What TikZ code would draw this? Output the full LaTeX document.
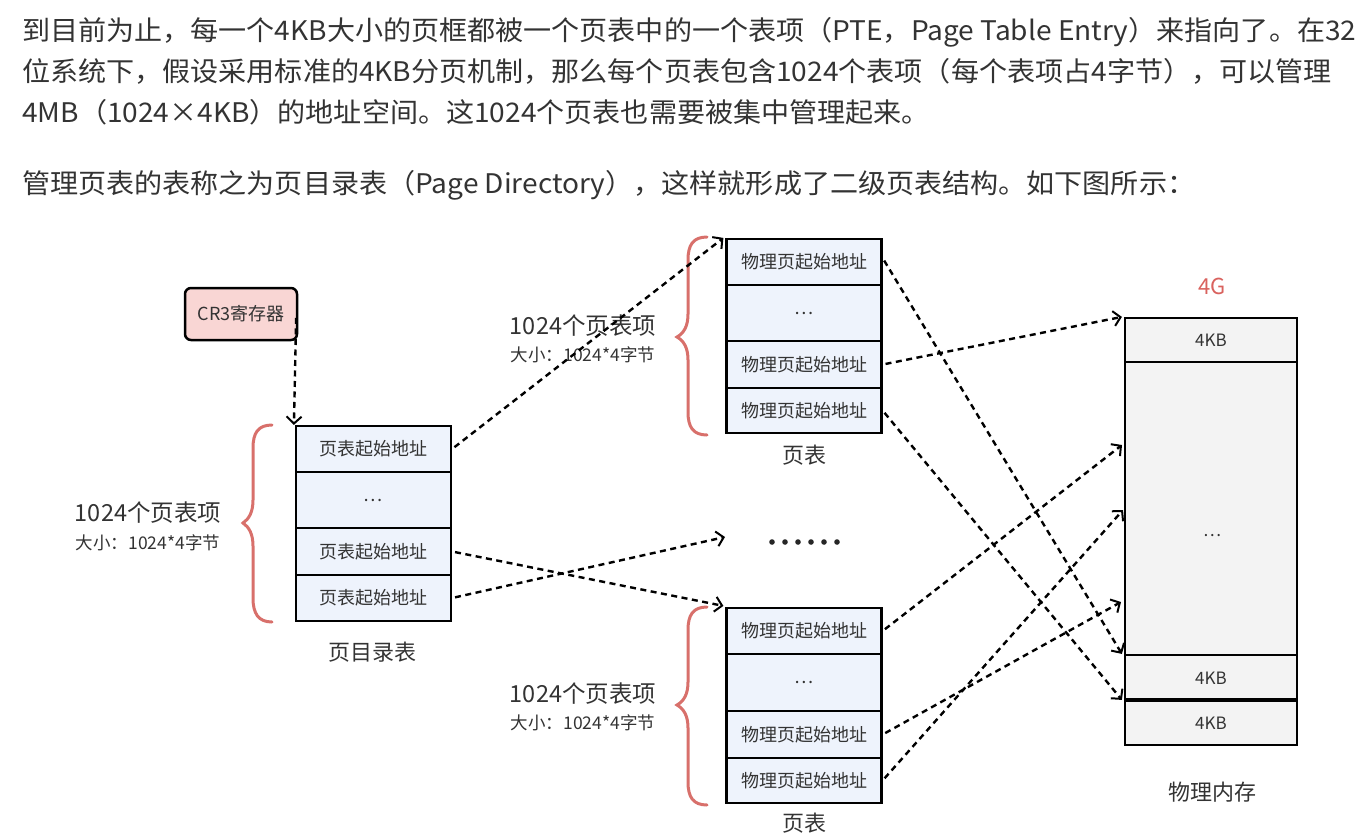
\documentclass[tikz,border=0pt]{standalone}
\usepackage{fontspec}
\setmainfont{Noto Sans CJK SC}
\usetikzlibrary{arrows.meta}
\definecolor{txt}{HTML}{333333}
\definecolor{cellblue}{HTML}{EEF3FC}
\definecolor{memgray}{HTML}{F3F3F3}
\definecolor{crpink}{HTML}{F9D6D4}
\definecolor{bracered}{HTML}{D8706B}
\definecolor{gred}{HTML}{D9625E}
\newcommand{\bodyline}[1]{\scalebox{1.04}[1]{#1}}
\begin{document}
\begin{tikzpicture}[x=1pt,y=-1pt,
  body/.style={anchor=base west, inner sep=0pt, text=txt, font=\fontsize{27}{30}\selectfont},
  cell/.style={draw=black, line width=2.2pt, fill=cellblue, minimum width=155pt, inner sep=0pt, text=txt, font=\fontsize{18}{21}\selectfont},
  mem/.style={draw=black, line width=2.2pt, fill=memgray, minimum width=172pt, inner sep=0pt, text=txt, font=\fontsize{17}{20}\selectfont},
  biglbl/.style={inner sep=0pt, text=txt, font=\fontsize{22}{26}\selectfont},
  brlbl/.style={inner sep=0pt, text=txt, font=\fontsize{23.5}{27}\selectfont},
  smalllbl/.style={inner sep=0pt, text=txt, font=\fontsize{17.5}{20}\selectfont},
  brc/.style={draw=bracered, line width=3pt, line cap=round},
  ptr/.style={line width=2.4pt, dash pattern=on 6pt off 4.5pt, -{Straight Barb[length=7pt,width=15pt,line width=2pt]}, shorten <=3pt}
]
\useasboundingbox (0,0) rectangle (1372,838);

% body text
\node[body] (l1) at (22,40) {\bodyline{到目前为止，每一个4KB大小的页框都被一个页表中的一个表项（PTE，Page Table Entry）来指向了。在32}};
\node[body] (l2) at (22,81) {\bodyline{位系统下，假设采用标准的4KB分页机制，那么每个页表包含1024个表项（每个表项占4字节），可以管理}};
\node[body] (l3) at (22,122) {\bodyline{4MB（1024×4KB）的地址空间。这1024个页表也需要被集中管理起来。}};
\node[body] (l4) at (22,193) {\bodyline{管理页表的表称之为页目录表（Page Directory），这样就形成了二级页表结构。如下图所示：}};

% CR3
\node[draw=black, line width=2.5pt, fill=crpink, rounded corners=6pt, minimum width=112pt, minimum height=52pt, inner sep=0pt, text=txt, font=\fontsize{18}{21}\selectfont] (cr3) at (241,314) {CR3寄存器};

% page directory
\node[cell, minimum height=46pt] (d1) at (373.5,449) {页表起始地址};
\node[cell, minimum height=56pt] (d2) at (373.5,500) {…};
\node[cell, minimum height=47pt] (d3) at (373.5,551.5) {页表起始地址};
\node[cell, minimum height=46pt] (d4) at (373.5,598) {页表起始地址};
\node[biglbl] (dlbl) at (372,652) {页目录表};

% top page table
\node[cell, minimum height=46pt] (t1) at (804,262) {物理页起始地址};
\node[cell, minimum height=56pt] (t2) at (804,313) {…};
\node[cell, minimum height=47pt] (t3) at (804,364.5) {物理页起始地址};
\node[cell, minimum height=45pt] (t4) at (804,410.5) {物理页起始地址};
\node[biglbl] (tlbl) at (804,455) {页表};

% bottom page table
\node[cell, minimum height=46pt] (b1) at (804,631) {物理页起始地址};
\node[cell, minimum height=57pt] (b2) at (804,682.5) {…};
\node[cell, minimum height=47pt] (b3) at (804,734.5) {物理页起始地址};
\node[cell, minimum height=45pt] (b4) at (804,780.5) {物理页起始地址};
\node[biglbl] (blbl) at (804,823) {页表};

% physical memory
\node[mem, minimum height=44pt] (m1) at (1211,340) {4KB};
\node[mem, minimum height=293pt] (m2) at (1211,508.5) {};
\node[inner sep=0pt, text=txt, font=\fontsize{17}{20}\selectfont] (m2dots) at (1212,536) {…};
\node[mem, minimum height=46pt] (m3) at (1211,678) {4KB};
\node[mem, minimum height=44pt] (m4) at (1211,723) {4KB};
\draw[line width=4pt] (m4.north west) -- (m4.north east);
\node[inner sep=0pt, text=gred, font=\fontsize{22}{26}\selectfont] (g4) at (1212,286) {4G};
\node[biglbl] (mlbl) at (1212,792) {物理内存};

% braces
\draw[brc] (272,425) .. controls (258,425) and (253,433) .. (253,448) -- (253,500) .. controls (253,512) and (249,519) .. (243,523) .. controls (249,527) and (253,534) .. (253,546) -- (253,598) .. controls (253,613) and (258,622) .. (272,622);
\draw[brc] (707,237) .. controls (693,237) and (688,245) .. (688,260) -- (688,314) .. controls (688,326) and (684,333) .. (677,337) .. controls (684,341) and (688,348) .. (688,360) -- (688,412) .. controls (688,427) and (693,435) .. (707,435);
\draw[brc] (707,607) .. controls (693,607) and (688,615) .. (688,630) -- (688,682) .. controls (688,694) and (684,701) .. (677,705) .. controls (684,709) and (688,716) .. (688,728) -- (688,782) .. controls (688,797) and (693,805) .. (707,805);

% brace labels
\node[brlbl] (lab1) at (148,513) {1024个页表项};
\node[smalllbl] (lab1s) at (148,543) {大小：1024*4字节};
\node[brlbl] (lab2) at (583,326) {1024个页表项};
\node[smalllbl] (lab2s) at (583,355) {大小：1024*4字节};
\node[brlbl] (lab3) at (583,694) {1024个页表项};
\node[smalllbl] (lab3s) at (583,723) {大小：1024*4字节};

% more dots
\foreach \i in {0,...,5} \fill[black!85] (772+13*\i,542) circle (2.8pt);
\coordinate (dotsin) at (725,537);

% free ends on memory
\coordinate (ma) at (1122,445);
\coordinate (mb) at (1123,510);
\coordinate (mc) at (1121,602);

% arrows
\draw[ptr, shorten <=4pt] ([xshift=-2pt]cr3.east) -- ([xshift=-1pt]d1.north west);
\draw[ptr] (d1.east) -- ([xshift=-2pt]t1.north west);
\draw[ptr] (d3.east) -- ([xshift=-2pt,yshift=1pt]b1.north west);
\draw[ptr] (d4.east) -- (dotsin);
\draw[ptr] ([yshift=4pt]t1.east) -- ([xshift=-2pt]m3.north west);
\draw[ptr] (t3.east) -- ([xshift=-2pt]m1.north west);
\draw[ptr] (t4.east) -- ([xshift=-2pt]m4.north west);
\draw[ptr] (b1.east) -- (ma);
\draw[ptr] (b3.east) -- (mc);
\draw[ptr] (b4.east) -- (mb);
\end{tikzpicture}
\end{document}
